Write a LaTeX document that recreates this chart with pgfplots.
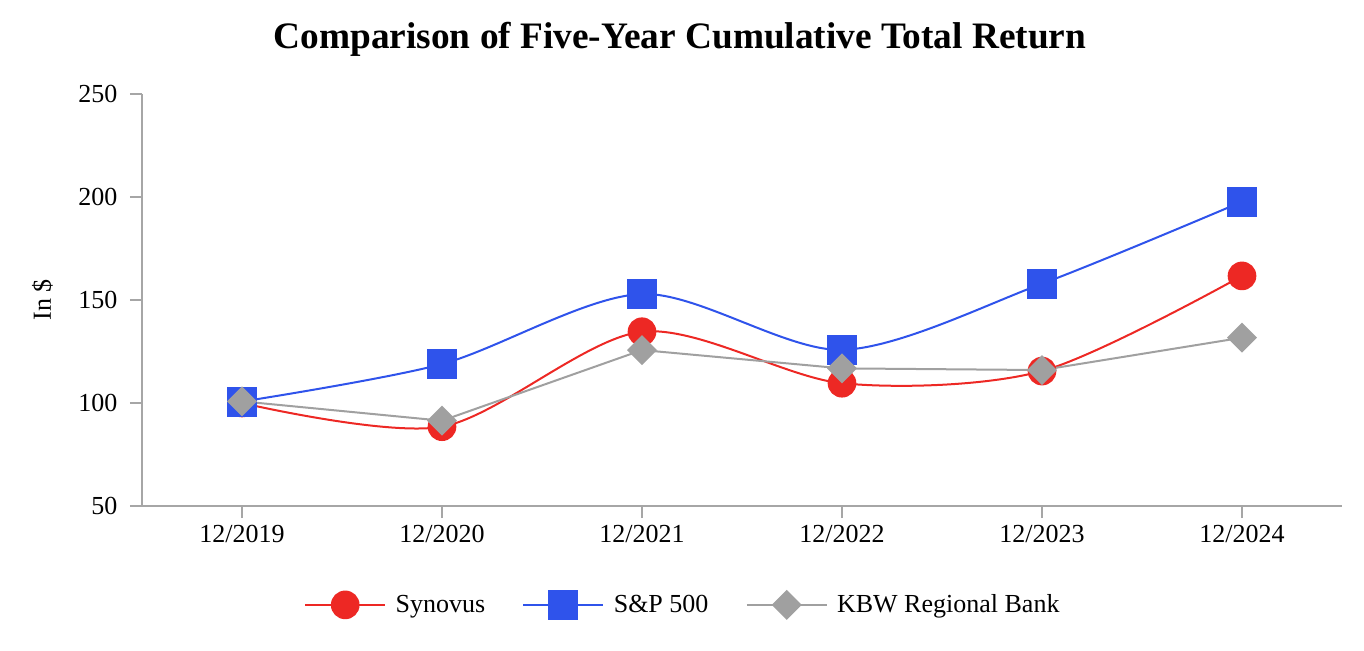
\documentclass[border=0pt]{standalone}
\usepackage{fontspec}
\setmainfont{Liberation Serif}
\usepackage{pgfplots}
\pgfplotsset{compat=1.18}
\definecolor{cred}{RGB}{237,40,36}
\definecolor{cblue}{RGB}{47,83,235}
\definecolor{cgray}{RGB}{160,160,160}
\definecolor{caxis}{RGB}{166,166,166}
\begin{document}
\begin{tikzpicture}
\useasboundingbox (-106.5pt,-108pt) rectangle (916.5pt,379.5pt);
\begin{axis}[
  at={(0pt,0pt)}, anchor=south west,
  scale only axis, width=900pt, height=309pt,
  xmin=-0.5, xmax=5.5, ymin=50, ymax=250,
  axis lines*=left,
  axis line style={caxis, line width=1.1pt},
  xtick={0,1,2,3,4,5},
  xticklabels={12/2019,12/2020,12/2021,12/2022,12/2023,12/2024},
  ytick={50,100,150,200,250},
  tick align=outside,
  major tick length=9pt,
  tick style={caxis, line width=1.1pt},
  /pgf/number format/assume math mode=true,
  tick label style={font=\fontsize{19.5}{22}\selectfont},
  xticklabel style={yshift=-2pt},
  yticklabel style={xshift=-6pt},
  ylabel={In \$},
  ylabel style={font=\fontsize{19.5}{22}\selectfont, at={(axis description cs:-0.083,0.5)}, anchor=center},
  clip=false,
  legend columns=3,
  legend style={draw=none, font=\fontsize{19.5}{22}\selectfont,
    at={(axis description cs:0.451,-0.24)}, anchor=center,
    /tikz/every even column/.append style={column sep=26pt},
    cells={anchor=west}},
  legend image code/.code={\draw[mark repeat=2,mark phase=2] plot coordinates {(0pt,0pt) (30pt,0pt) (60pt,0pt)};},
]
\addplot[cred, line width=1.5pt, smooth, tension=0.5, mark=*, mark size=10pt, mark options={solid, fill=cred, draw=none}]
  coordinates {(0,100) (1,88.5) (2,134.6) (3,109.6) (4,115.5) (5,161.7)};
\addlegendentry{\hspace*{5pt}Synovus}
\addplot[cblue, line width=1.5pt, smooth, tension=0.5, mark=square*, mark size=10.5pt, mark options={solid, fill=cblue, draw=none}]
  coordinates {(0,100.7) (1,118.9) (2,152.9) (3,125.8) (4,157.9) (5,197.7)};
\addlegendentry{\hspace*{5pt}S\&P 500}
\addplot[cgray, line width=1.5pt, mark=square*, mark size=7.2pt, mark options={solid, fill=cgray, draw=none, rotate=45}]
  coordinates {(0,100.8) (1,91.4) (2,125.7) (3,116.8) (4,116) (5,131.7)};
\addlegendentry{\hspace*{5pt}KBW Regional Bank}
\end{axis}
\node[font=\fontsize{28}{32}\selectfont\bfseries] at (403.5pt,350pt) {Comparison of Five-Year Cumulative Total Return};
\end{tikzpicture}
\end{document}
